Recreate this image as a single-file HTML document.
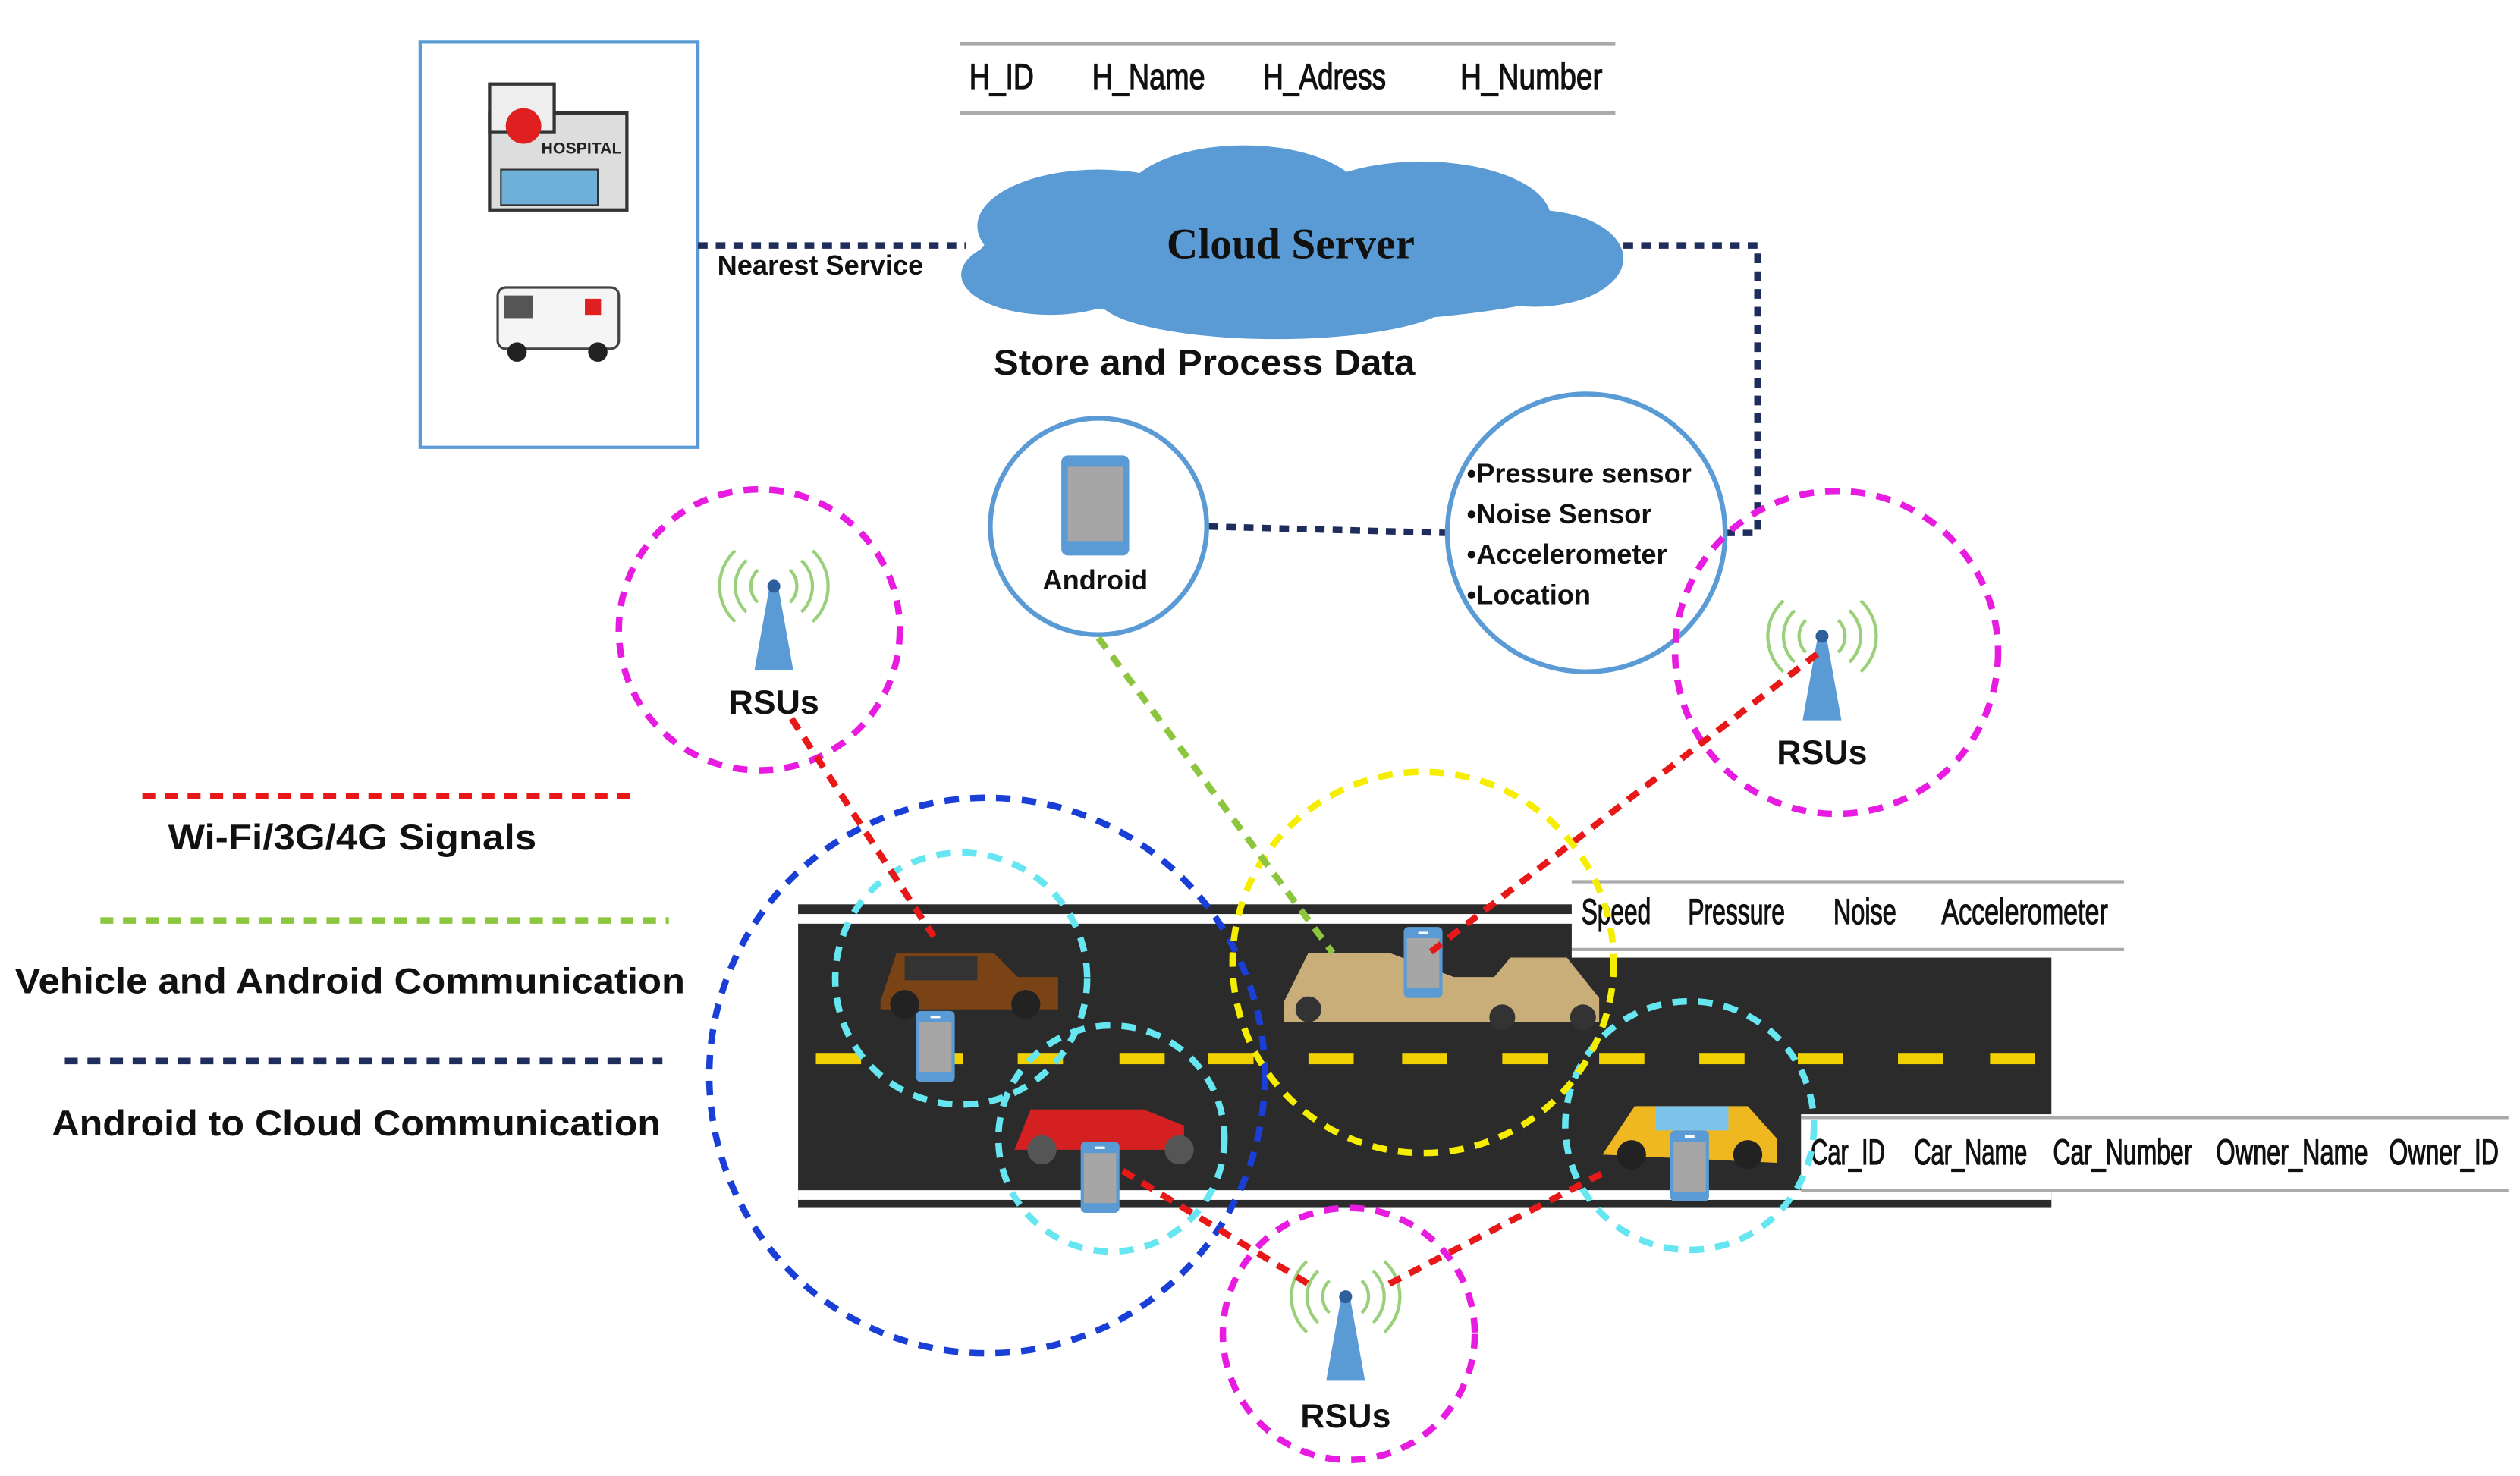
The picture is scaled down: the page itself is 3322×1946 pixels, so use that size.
<!DOCTYPE html>
<html><head><meta charset="utf-8"><style>
html,body{margin:0;padding:0;background:#fff;}
svg{display:block;}
text{font-family:"Liberation Sans",sans-serif;font-weight:bold;}
.tb{font-family:"Liberation Sans",sans-serif;font-size:22px;fill:#111;font-weight:normal;stroke:#111;stroke-width:0.6;}
</style></head><body>
<svg width="3322" height="1946" viewBox="0 0 1560 914" xmlns="http://www.w3.org/2000/svg">
<defs>
<g id="phone">
<rect x="-12" y="-22" width="24" height="44" rx="3" fill="#5b9bd5"/>
<rect x="-10" y="-15" width="20" height="31" fill="#a6a6a6"/>
<rect x="-3" y="-19" width="6" height="1.5" fill="#fff"/>
</g>
<g id="rsu">
<polygon points="-3,-40 3,-40 12,10 -12,10" fill="#5b9bd5"/>
<circle cx="0" cy="-42" r="4" fill="#2e5f9a"/>
<path d="M-10,-52 a14,14 0 0,0 0,20 M10,-52 a14,14 0 0,1 0,20 M-17,-58 a22,22 0 0,0 0,32 M17,-58 a22,22 0 0,1 0,32 M-24,-64 a30,30 0 0,0 0,44 M24,-64 a30,30 0 0,1 0,44" fill="none" stroke="#9bd07a" stroke-width="2"/>
</g>
</defs>

<!-- hospital box -->
<rect x="260" y="26" width="172" height="251" fill="#fff" stroke="#5b9bd5" stroke-width="2"/>
<rect x="303" y="70" width="85" height="60" fill="#ddd" stroke="#333" stroke-width="2"/>
<rect x="303" y="52" width="40" height="30" fill="#eee" stroke="#333" stroke-width="2"/>
<circle cx="324" cy="78" r="11" fill="#e02020"/>
<rect x="310" y="105" width="60" height="22" fill="#6fb0d8" stroke="#333"/>
<text x="335" y="95" font-size="10" fill="#222">HOSPITAL</text>
<rect x="308" y="178" width="75" height="38" rx="5" fill="#f5f5f5" stroke="#444" stroke-width="1.5"/>
<rect x="312" y="183" width="18" height="14" fill="#555"/>
<rect x="362" y="185" width="10" height="10" fill="#e02020"/>
<circle cx="320" cy="218" r="6" fill="#222"/><circle cx="370" cy="218" r="6" fill="#222"/>

<!-- H table -->
<line x1="594" y1="27" x2="1000" y2="27" stroke="#aaa" stroke-width="2"/>
<line x1="594" y1="70" x2="1000" y2="70" stroke="#aaa" stroke-width="2"/>
<text class="tb" x="600" y="55" textLength="40" lengthAdjust="spacingAndGlyphs">H_ID</text>
<text class="tb" x="676" y="55" textLength="70" lengthAdjust="spacingAndGlyphs">H_Name</text>
<text class="tb" x="782" y="55" textLength="76" lengthAdjust="spacingAndGlyphs">H_Adress</text>
<text class="tb" x="904" y="55" textLength="88" lengthAdjust="spacingAndGlyphs">H_Number</text>

<!-- cloud -->
<g fill="#5b9bd5">
<ellipse cx="805" cy="160" rx="200" ry="40"/>
<ellipse cx="680" cy="140" rx="75" ry="35"/>
<ellipse cx="770" cy="125" rx="75" ry="35"/>
<ellipse cx="880" cy="135" rx="80" ry="35"/>
<ellipse cx="950" cy="160" rx="55" ry="30"/>
<ellipse cx="650" cy="170" rx="55" ry="25"/>
<ellipse cx="790" cy="185" rx="110" ry="25"/>
</g>
<text x="799" y="160" font-size="27" text-anchor="middle" style="font-family:'Liberation Serif',serif" fill="#111">Cloud Server</text>
<text x="615" y="232" font-size="22" fill="#111" textLength="261" lengthAdjust="spacingAndGlyphs">Store and Process Data</text>
<text x="444" y="170" font-size="17" fill="#111">Nearest Service</text>

<!-- navy dotted connectors -->
<g stroke="#1f2d5c" stroke-width="4" stroke-dasharray="6,5" fill="none">
<line x1="432" y1="152" x2="598" y2="152"/>
<polyline points="1005,152 1088,152 1088,330 1068,330"/>
<line x1="748" y1="326" x2="896" y2="330"/>
</g>

<!-- android circle -->
<circle cx="680" cy="326" r="67" fill="#fff" stroke="#5b9bd5" stroke-width="3"/>
<rect x="657" y="282" width="42" height="62" rx="4" fill="#5b9bd5"/>
<rect x="661" y="289" width="34" height="46" fill="#a6a6a6"/>
<text x="678" y="365" font-size="17" text-anchor="middle" fill="#111">Android</text>

<!-- sensors circle -->
<circle cx="982" cy="330" r="86" fill="#fff" stroke="#5b9bd5" stroke-width="3"/>
<g font-size="17" fill="#111">
<text x="908" y="299">•Pressure sensor</text>
<text x="908" y="324">•Noise Sensor</text>
<text x="908" y="349">•Accelerometer</text>
<text x="908" y="374">•Location</text>
</g>

<!-- road -->
<rect x="494" y="560" width="776" height="188" fill="#2b2b2b"/>
<rect x="494" y="566" width="776" height="6" fill="#fff"/>
<rect x="494" y="737" width="776" height="6" fill="#fff"/>
<g fill="#f0d000">
<rect x="505" y="652" width="28" height="7"/><rect x="568" y="652" width="28" height="7"/><rect x="630" y="652" width="28" height="7"/><rect x="693" y="652" width="28" height="7"/><rect x="748" y="652" width="28" height="7"/><rect x="810" y="652" width="28" height="7"/><rect x="868" y="652" width="28" height="7"/><rect x="930" y="652" width="28" height="7"/><rect x="990" y="652" width="28" height="7"/><rect x="1052" y="652" width="28" height="7"/><rect x="1113" y="652" width="28" height="7"/><rect x="1175" y="652" width="28" height="7"/><rect x="1232" y="652" width="28" height="7"/>
</g>

<!-- tables on road -->
<rect x="973" y="545" width="342" height="48" fill="#fff"/>
<line x1="973" y1="546" x2="1315" y2="546" stroke="#aaa" stroke-width="2"/>
<line x1="973" y1="588" x2="1315" y2="588" stroke="#aaa" stroke-width="2"/>
<text class="tb" x="979" y="572" textLength="43" lengthAdjust="spacingAndGlyphs">Speed</text>
<text class="tb" x="1045" y="572" textLength="60" lengthAdjust="spacingAndGlyphs">Pressure</text>
<text class="tb" x="1135" y="572" textLength="39" lengthAdjust="spacingAndGlyphs">Noise</text>
<text class="tb" x="1202" y="572" textLength="103" lengthAdjust="spacingAndGlyphs">Accelerometer</text>
<rect x="1115" y="690" width="440" height="48" fill="#fff"/>
<line x1="1115" y1="692" x2="1553" y2="692" stroke="#aaa" stroke-width="2"/>
<line x1="1115" y1="737" x2="1553" y2="737" stroke="#aaa" stroke-width="2"/>
<text class="tb" x="1121" y="721" textLength="46" lengthAdjust="spacingAndGlyphs">Car_ID</text>
<text class="tb" x="1185" y="721" textLength="70" lengthAdjust="spacingAndGlyphs">Car_Name</text>
<text class="tb" x="1271" y="721" textLength="86" lengthAdjust="spacingAndGlyphs">Car_Number</text>
<text class="tb" x="1372" y="721" textLength="94" lengthAdjust="spacingAndGlyphs">Owner_Name</text>
<text class="tb" x="1479" y="721" textLength="68" lengthAdjust="spacingAndGlyphs">Owner_ID</text>

<!-- cars -->
<g>
<path d="M545,620 l10,-30 h60 l15,15 h25 v20 h-110z" fill="#7a4316"/>
<rect x="560" y="592" width="45" height="15" fill="#333"/>
<circle cx="560" cy="622" r="9" fill="#222"/><circle cx="635" cy="622" r="9" fill="#222"/>
<path d="M628,712 l10,-25 h70 l25,10 v15z" fill="#d42020"/>
<circle cx="645" cy="712" r="9" fill="#555"/><circle cx="730" cy="712" r="9" fill="#555"/>
<path d="M795,620 l15,-30 h50 l40,15 h25 l10,-12 h35 l20,25 v15 h-195z" fill="#c9ae7a"/>
<circle cx="810" cy="625" r="8" fill="#333"/><circle cx="930" cy="630" r="8" fill="#333"/><circle cx="980" cy="630" r="8" fill="#333"/>
<path d="M992,715 l20,-30 h70 l18,20 v15z" fill="#f0b820"/>
<rect x="1025" y="685" width="45" height="15" fill="#7dc4ea"/>
<circle cx="1010" cy="715" r="9" fill="#222"/><circle cx="1082" cy="715" r="9" fill="#222"/>
</g>
<use href="#phone" x="579" y="648"/>
<use href="#phone" x="681" y="729"/>
<use href="#phone" x="881" y="596"/>
<use href="#phone" x="1046" y="722"/>

<!-- RSUs -->
<circle cx="470" cy="390" r="87" fill="none" stroke="#e81ce0" stroke-width="4" stroke-dasharray="9,7"/>
<circle cx="1137" cy="404" r="100" fill="none" stroke="#e81ce0" stroke-width="4" stroke-dasharray="9,7"/>
<circle cx="835" cy="826" r="78" fill="none" stroke="#e81ce0" stroke-width="4" stroke-dasharray="9,7"/>
<use href="#rsu" x="479" y="405"/>
<use href="#rsu" x="1128" y="436"/>
<use href="#rsu" x="833" y="845"/>
<text x="479" y="442" font-size="21" text-anchor="middle" fill="#111">RSUs</text>
<text x="1128" y="473" font-size="21" text-anchor="middle" fill="#111">RSUs</text>
<text x="833" y="884" font-size="21" text-anchor="middle" fill="#111">RSUs</text>

<!-- range circles -->
<g fill="none" stroke-width="4" stroke-dasharray="9,7">
<circle cx="611" cy="666" r="172" stroke="#1a3fd6"/>
<circle cx="595" cy="606" r="78" stroke="#66e6f0"/>
<circle cx="688" cy="705" r="70" stroke="#66e6f0"/>
<circle cx="1046" cy="697" r="77" stroke="#66e6f0"/>
<circle cx="881" cy="596" r="118" stroke="#f5ee00"/>
</g>

<!-- signal lines -->
<g fill="none" stroke-width="4" stroke-dasharray="8,6">
<line x1="490" y1="445" x2="578" y2="580" stroke="#e81818"/>
<line x1="1125" y1="405" x2="885" y2="590" stroke="#e81818"/>
<line x1="695" y1="725" x2="810" y2="795" stroke="#e81818"/>
<line x1="860" y1="795" x2="995" y2="725" stroke="#e81818"/>
<line x1="680" y1="395" x2="825" y2="590" stroke="#8cc63f"/>
</g>

<!-- legend -->
<line x1="88" y1="493" x2="390" y2="493" stroke="#e81818" stroke-width="4" stroke-dasharray="8,6"/>
<text x="104" y="526" font-size="22" fill="#111" textLength="228" lengthAdjust="spacingAndGlyphs">Wi-Fi/3G/4G Signals</text>
<line x1="62" y1="570" x2="414" y2="570" stroke="#8cc63f" stroke-width="4" stroke-dasharray="8,6"/>
<text x="9" y="615" font-size="22" fill="#111" textLength="415" lengthAdjust="spacingAndGlyphs">Vehicle and Android Communication</text>
<line x1="40" y1="657" x2="410" y2="657" stroke="#1f2d5c" stroke-width="4" stroke-dasharray="8,6"/>
<text x="32" y="703" font-size="22" fill="#111" textLength="377" lengthAdjust="spacingAndGlyphs">Android to Cloud Communication</text>
</svg>
</body></html>
